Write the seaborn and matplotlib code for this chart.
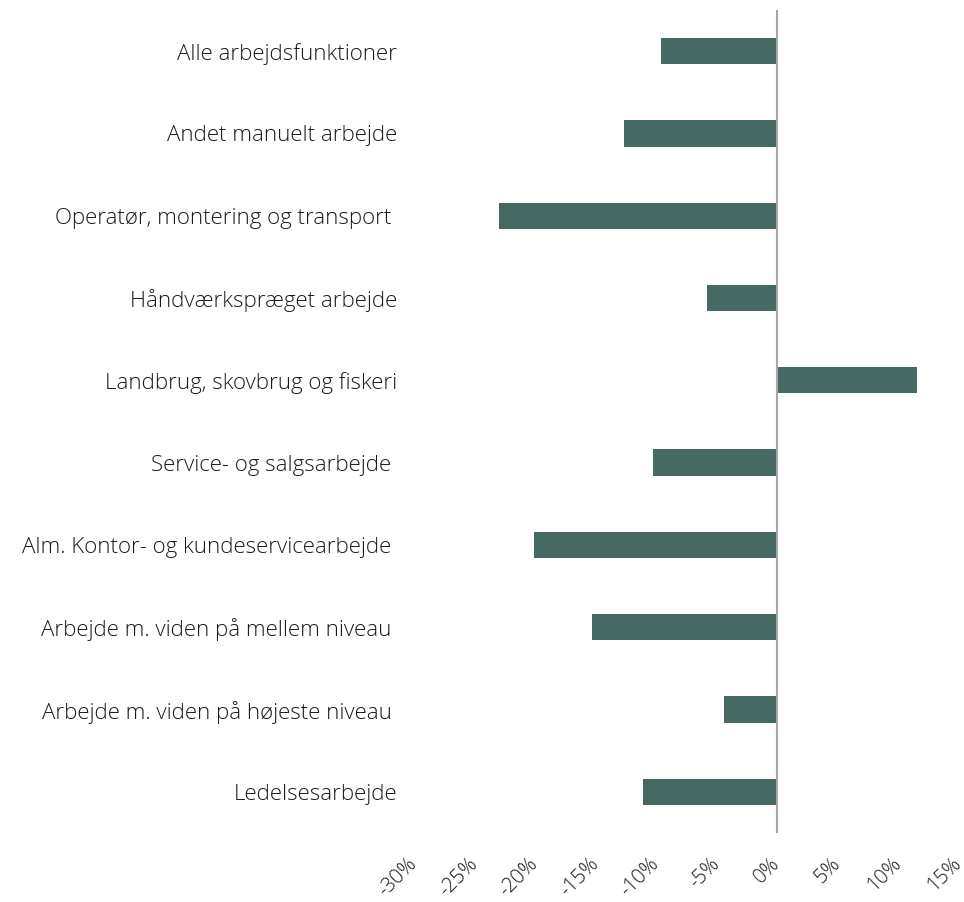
import matplotlib
matplotlib.use("Agg")
import matplotlib.pyplot as plt
import matplotlib.transforms as mtransforms
import seaborn as sns
import pandas as pd
from matplotlib.ticker import FuncFormatter

kategorier = [
    "Alle arbejdsfunktioner",
    "Andet manuelt arbejde",
    "Operatør, montering og transport ",
    "Håndværkspræget arbejde",
    "Landbrug, skovbrug og fiskeri",
    "Service- og salgsarbejde ",
    "Alm. Kontor- og kundeservicearbejde ",
    "Arbejde m. viden på mellem niveau ",
    "Arbejde m. viden på højeste niveau ",
    "Ledelsesarbejde",
]
aendring = [-9.6, -12.6, -23.0, -5.8, 11.6, -10.2, -20.1, -15.3, -4.4, -11.1]
xticks = [-30, -25, -20, -15, -10, -5, 0, 5, 10, 15]

df = pd.DataFrame({"kategori": kategorier, "aendring": aendring})

sns.set_style("white")
plt.rcParams["font.family"] = ["Open Sans", "DejaVu Sans"]

fig = plt.figure(figsize=(9.64, 9.02), dpi=100)
ax = fig.add_axes([0.4295, 0.0765, 0.5645, 0.9125])

sns.barplot(data=df, x="aendring", y="kategori", orient="h", color="#466964",
            width=0.32, saturation=1, edgecolor="none", linewidth=0, ax=ax)

ax.set_xlim(-30, 15)
ax.set_xticks(xticks)
ax.xaxis.set_major_formatter(FuncFormatter(lambda v, p: f"{v:.0f}%"))
ax.axvline(0, color="#a6a6a6", lw=1.5, zorder=5)
for s in ax.spines.values():
    s.set_visible(False)
ax.set_xlabel("")
ax.set_ylabel("")
ax.tick_params(axis="both", length=0)
ax.tick_params(axis="y", pad=12)
ax.tick_params(axis="x", pad=15)
for t in ax.get_yticklabels():
    t.set_fontsize(16)
    t.set_fontweight("light")
    t.set_color("#1a1a1a")
shift = mtransforms.ScaledTranslation(-7 / 100, 0, fig.dpi_scale_trans)
for t in ax.get_xticklabels():
    t.set_fontsize(14.5)
    t.set_fontweight("light")
    t.set_color("#1a1a1a")
    t.set_rotation(45)
    t.set_ha("right")
    t.set_rotation_mode("anchor")
    t.set_transform(t.get_transform() + shift)

fig.savefig("out.png", dpi=100)
